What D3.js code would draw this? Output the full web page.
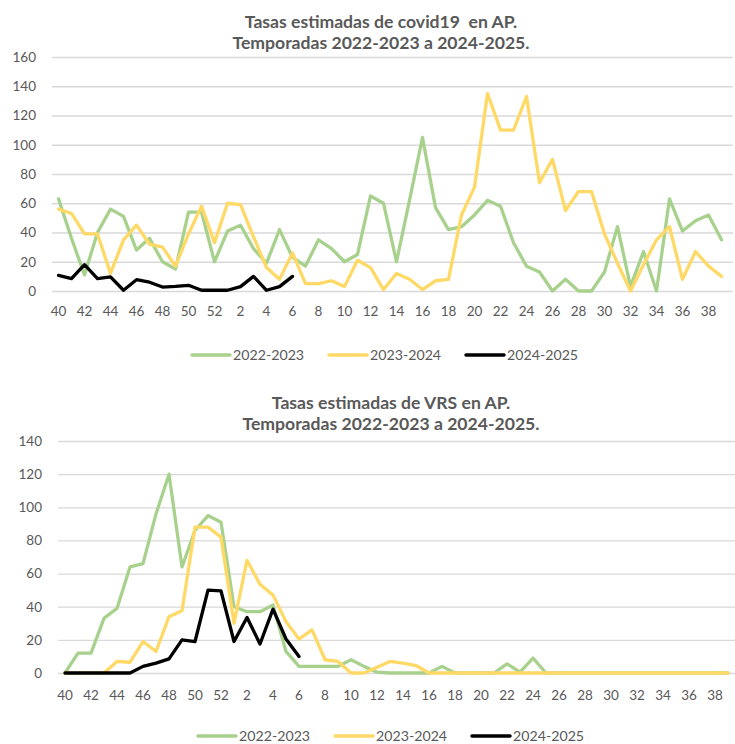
<!DOCTYPE html>
<html>
<head>
<meta charset="utf-8">
<script src="https://cdn.jsdelivr.net/npm/d3@7"></script>
<style>
  body { margin: 0; background: #fff; }
  svg { display: block; }
  text { font-family: Lato, "Open Sans", sans-serif; fill: #595959; }
</style>
</head>
<body>
<svg id="chart" width="735" height="744"></svg>
<script>
// epidemiological weeks, season runs from week 40 to week 39
var weeks = [40, 41, 42, 43, 44, 45, 46, 47, 48, 49, 50, 51, 52,
  1, 2, 3, 4, 5, 6, 7, 8, 9, 10, 11, 12, 13, 14, 15, 16, 17, 18, 19, 20,
  21, 22, 23, 24, 25, 26, 27, 28, 29, 30, 31, 32, 33, 34, 35, 36, 37, 38, 39];
var seasons = ["2022-2023", "2023-2024", "2024-2025"];
var seasonColors = ["#a9d18e", "#ffd966", "#000000"];

// covid19 rates
var covid2223 = [63, 36, 11, 40, 56, 51, 28, 36, 20, 15, 54, 54, 20,
  41, 45, 29, 19, 42, 23, 17, 35, 29, 20, 25, 65, 60, 20, 62, 105, 57, 42, 44, 52,
  62, 58, 33, 17, 13, 0, 8, 0, 0, 13, 44, 3, 27, 0, 63, 41, 48, 52, 35];
var covid2324 = [56, 53, 39, 39, 12, 35, 45, 32, 30, 17, 39, 58, 33,
  60, 59, 37, 16, 8, 26, 5, 5, 7, 3, 21, 16, 1, 12, 8, 1, 7, 8, 52, 71,
  135, 110, 110, 133, 74, 90, 55, 68, 68, 39, 19, 0, 18, 35, 44, 8, 27, 17, 10];
var covid2425 = [10.7, 8.5, 18, 8.5, 9.6, 0.5, 7.7, 6, 2.7, 3.2, 3.9, 0.5, 0.5,
  0.5, 3, 10, 0.5, 3, 10];

// VRS rates
var vrs2223 = [0, 12, 12, 33, 39, 64, 66, 96, 120, 64, 86, 95, 91,
  40, 37, 37, 41, 13, 4, 4, 4, 4, 8, 4, 0.5, 0, 0, 0, 0, 4, 0, 0, 0,
  0, 5.5, 0.5, 9, 0, 0, 0, 0, 0, 0, 0, 0, 0, 0, 0, 0, 0, 0, 0];
var vrs2324 = [0, 0, 0, 0, 7, 6.5, 19, 13, 34, 37.5, 88, 88, 82,
  30, 68, 53.5, 47, 31, 20.5, 26, 8, 7, 0, 0, 3.5, 7, 6, 4.5, 0, 0, 0, 0, 0,
  0, 0, 0, 0, 0, 0, 0, 0, 0, 0, 0, 0, 0, 0, 0, 0, 0, 0, 0];
var vrs2425 = [0, 0, 0, 0, 0, 0, 4, 6, 8.5, 20, 19, 50, 49.5,
  19, 33.5, 17.5, 38.5, 20.5, 10];

var yTicksCovid = [0, 20, 40, 60, 80, 100, 120, 140, 160];
var yTicksVrs = [0, 20, 40, 60, 80, 100, 120, 140];

var svg = d3.select("#chart");

function drawPanel(opt) {
  var g = svg.append("g");

  var x = d3.scaleBand()
    .domain(d3.range(weeks.length))
    .range([opt.left, opt.right]);
  var y = d3.scaleLinear()
    .domain([0, d3.max(opt.yTicks)])
    .range([opt.bottom, opt.top]);

  // title, two lines
  g.selectAll("text.title")
    .data(opt.title)
    .enter().append("text")
    .attr("class", "title")
    .attr("x", opt.titleX)
    .attr("y", function (d, i) { return opt.titleY + i * 20.5; })
    .attr("dy", "0.35em")
    .attr("text-anchor", "middle")
    .style("font-size", "17.6px")
    .style("font-weight", "bold")
    .style("white-space", "pre")
    .text(function (d) { return d; });

  // horizontal gridlines
  var yAxis = d3.axisLeft(y).tickValues(opt.yTicks).tickSize(-(opt.gridRight - opt.gridLeft)).tickPadding(opt.gridLeft - opt.labelX);
  var ya = g.append("g")
    .attr("transform", "translate(" + opt.gridLeft + ",0)")
    .call(yAxis);
  ya.select(".domain").remove();
  ya.selectAll("line").attr("stroke", "#d9d9d9").attr("stroke-width", 1.3);
  ya.selectAll("text").style("font-size", "13.5px").attr("fill", "#595959");

  // week labels, every second one
  var xAxis = d3.axisBottom(x)
    .tickValues(d3.range(0, weeks.length, 2))
    .tickFormat(function (i) { return weeks[i]; })
    .tickSize(0)
    .tickPadding(opt.xLabelY - opt.bottom - 7);
  var xa = g.append("g")
    .attr("transform", "translate(0," + opt.bottom + ")")
    .call(xAxis);
  xa.select(".domain").remove();
  xa.selectAll("text").style("font-size", "13.5px").attr("fill", "#595959");

  var line = d3.line()
    .defined(function (d) { return d != null; })
    .x(function (d, i) { return x(i) + x.bandwidth() / 2; })
    .y(function (d) { return y(d); });

  opt.series.forEach(function (s, k) {
    g.append("path")
      .datum(s)
      .attr("fill", "none")
      .attr("stroke", seasonColors[k])
      .attr("stroke-width", 3.3)
      .attr("stroke-linejoin", "round")
      .attr("stroke-linecap", "round")
      .attr("d", line);
  });

  // legend
  var lg = g.selectAll("g.legend")
    .data(seasons)
    .enter().append("g")
    .attr("class", "legend")
    .attr("transform", function (d, i) { return "translate(" + (opt.legendX + i * 137) + "," + opt.legendY + ")"; });
  lg.append("line")
    .attr("x1", 0).attr("x2", 38)
    .attr("stroke", function (d, i) { return seasonColors[i]; })
    .attr("stroke-width", 3.5)
    .attr("stroke-linecap", "round");
  lg.append("text")
    .attr("x", 41)
    .attr("dy", "0.35em")
    .style("font-size", "14.2px")
    .text(function (d) { return d; });
}

drawPanel({
  title: ["Tasas estimadas de covid19  en AP.", "Temporadas 2022-2023 a 2024-2025."],
  titleX: 381, titleY: 22,
  left: 52, right: 728, top: 57, bottom: 291,
  gridLeft: 52, gridRight: 733, labelX: 36,
  xLabelY: 313,
  yTicks: yTicksCovid,
  series: [covid2223, covid2324, covid2425],
  legendX: 192, legendY: 355
});

drawPanel({
  title: ["Tasas estimadas de VRS en AP.", "Temporadas 2022-2023 a 2024-2025."],
  titleX: 391, titleY: 403,
  left: 58.5, right: 734.5, top: 441, bottom: 673,
  gridLeft: 58, gridRight: 735, labelX: 42,
  xLabelY: 697,
  yTicks: yTicksVrs,
  series: [vrs2223, vrs2324, vrs2425],
  legendX: 198, legendY: 736
});
</script>
</body>
</html>
